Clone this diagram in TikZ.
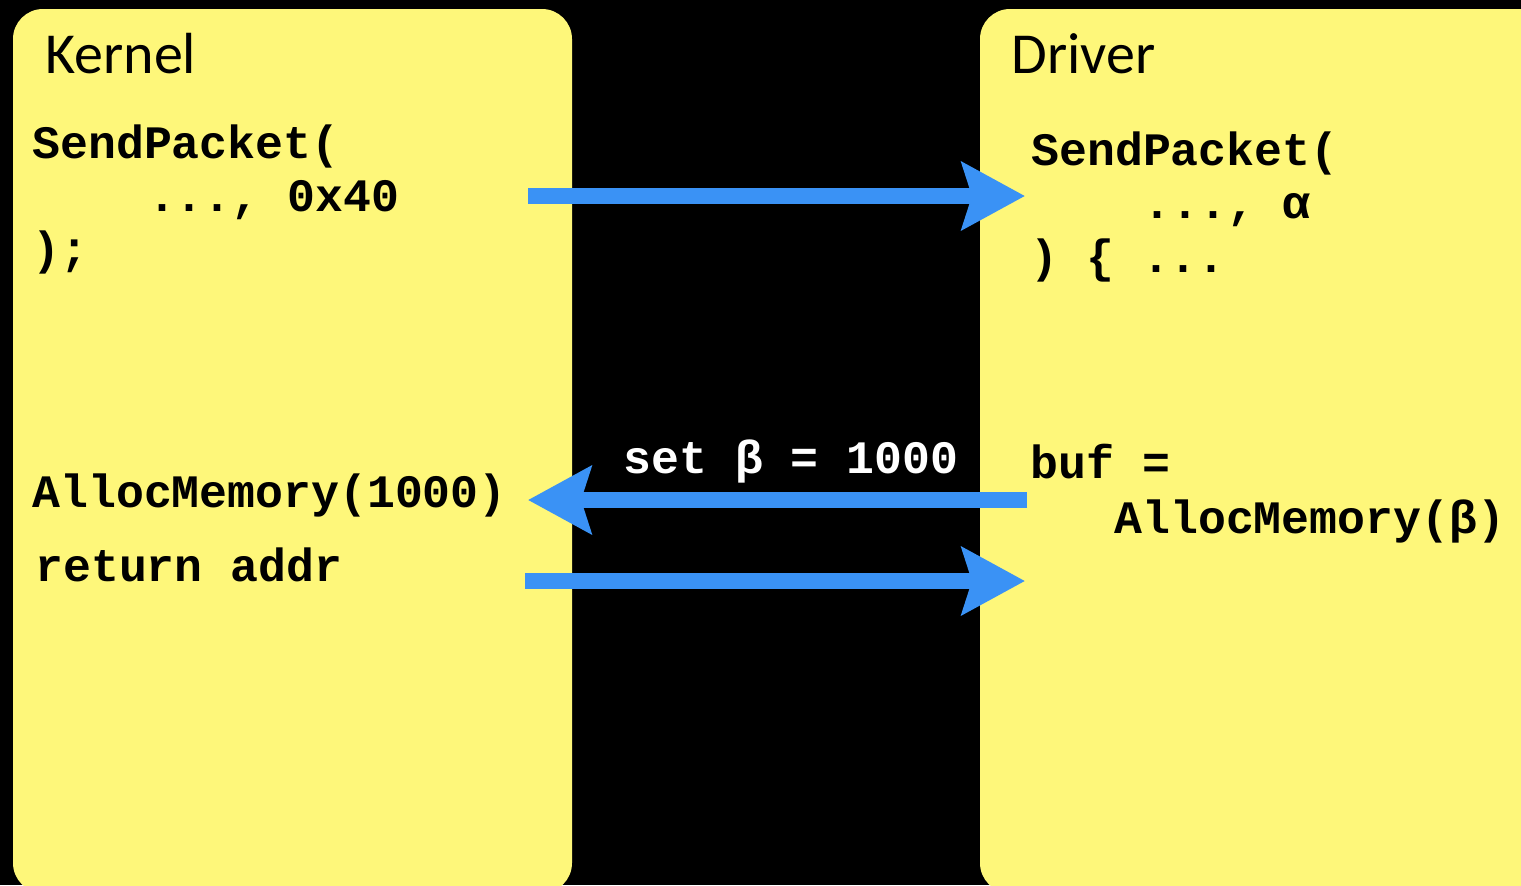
\documentclass[tikz,border=0pt]{standalone}
\usepackage{fontspec}
\usetikzlibrary{arrows.meta}
\newfontfamily\codefont{Liberation Mono}
\newfontfamily\titlefont{Carlito}
\definecolor{pad}{RGB}{254,247,122}
\definecolor{arrowblue}{RGB}{58,146,245}
\begin{document}
\begin{tikzpicture}[x=0.5pt,y=-0.5pt,
  panel/.style={fill=pad, draw=none, rounded corners=15pt, inner sep=0pt},
  title/.style={anchor=base west, inner sep=0pt, font=\titlefont\fontsize{29}{29}\selectfont},
  code/.style={anchor=base west, inner sep=0pt, font=\codefont\bfseries\fontsize{23.25}{23.25}\selectfont},
  flow/.style={draw=arrowblue, line width=8pt, -{Stealth[length=31.5pt,width=33.5pt,inset=5pt]}}
]
\clip (0,0) rectangle (1521,885);
\fill[black] (0,0) rectangle (1521,885);
\node[panel, minimum width=279.5pt, minimum height=442pt] (kpanel) at (292.5,451) {};
\node[panel, minimum width=290pt, minimum height=442pt] (dpanel) at (1270,451) {};

\node[title] (ktitle) at (45,73) {Kernel};
\node[title] (dtitle) at (1011,73) {Driver};

\node[code] (k1) at (32,158) {SendPacket(};
\node[code] (k2) at (147.6,211) {..., 0x40};
\node[code] (k3) at (32,264) {);};
\node[code] (k4) at (32,507) {AllocMemory(1000)};
\node[code] (k5) at (35,581) {return addr};

\node[code] (d1) at (1031,165) {SendPacket(};
\node[code] (d2) at (1143,218) {..., α};
\node[code] (d3) at (1030,272) {) \{ ...};
\node[code] (d4) at (1030,478) {buf =};
\node[code] (d5) at (1114,533) {AllocMemory(β)};

\node[code, text=white] (setlbl) at (623,473) {set β = 1000};

\coordinate (a1s) at (528,196);
\coordinate (a1e) at (1025,196);
\coordinate (a2s) at (1027,500);
\coordinate (a2e) at (528,500);
\coordinate (a3s) at (525,581);
\coordinate (a3e) at (1025,581);
\draw[flow] (a1s) -- (a1e);
\draw[flow] (a2s) -- (a2e);
\draw[flow] (a3s) -- (a3e);
\end{tikzpicture}
\end{document}
